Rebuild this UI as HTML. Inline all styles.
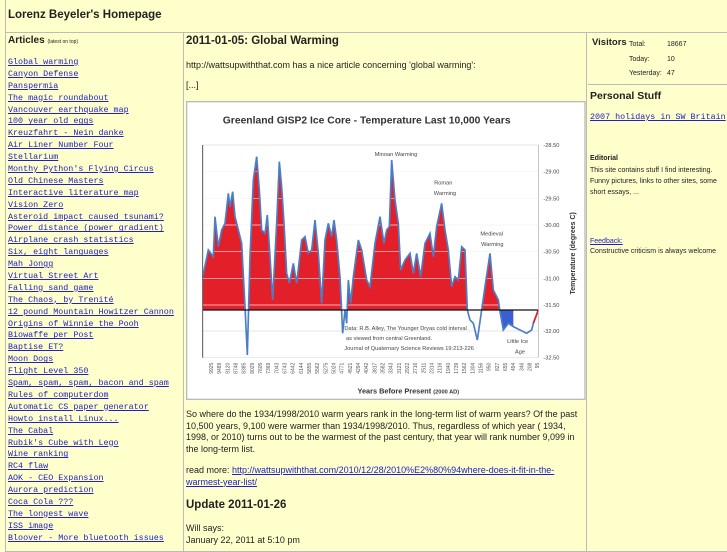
<!DOCTYPE html>
<html><head><meta charset="utf-8">
<style>
*{margin:0;padding:0;box-sizing:border-box}
body{width:727px;height:545px;overflow:hidden;background:#ffffcc;font-family:"Liberation Sans",sans-serif;color:#222;position:relative}
.a{position:absolute;white-space:nowrap}
.hdr{position:absolute;left:5px;top:0;width:740px;height:33px;border:1px solid #bbb;border-top:none}
.col{position:absolute;top:32px;height:520px;border:1px solid #bbb}
.links a{display:block;font-family:"Liberation Mono",monospace;font-size:8.4px;color:#2020cc;text-decoration:underline;height:11.9px;line-height:11.9px}
.p{font-size:9px;line-height:11.7px;color:#222}
a{color:#2020cc}
</style></head><body>
<div class="hdr"></div>
<div class="a" style="left:8px;top:9px;font-size:11.5px;font-weight:bold">Lorenz Beyeler's Homepage</div>
<div class="col" style="left:5px;width:179px"></div>
<div class="col" style="left:183px;width:404px"></div>
<div class="col" style="left:586px;width:160px"></div>
<div class="a" style="left:588px;top:84px;width:140px;border-top:1px solid #bbb"></div>

<div class="a" style="left:8px;top:35px;font-size:10px;font-weight:bold">Articles <span style="font-size:5px;font-weight:normal">(latest on top)</span></div>
<div class="a links" style="left:8px;top:57px">
<a>Global warming</a><a>Canyon Defense</a><a>Panspermia</a><a>The magic roundabout</a><a>Vancouver earthquake map</a><a>100 year old eggs</a><a>Kreuzfahrt - Nein danke</a><a>Air Liner Number Four</a><a>Stellarium</a><a>Monthy Python's Flying Circus</a><a>Old Chinese Masters</a><a>Interactive literature map</a><a>Vision Zero</a><a>Asteroid impact caused tsunami?</a><a>Power distance (power gradient)</a><a>Airplane crash statistics</a><a>Six, eight languages</a><a>Mah Jongg</a><a>Virtual Street Art</a><a>Falling sand game</a><a>The Chaos, by Trenité</a><a>12 pound Mountain Howitzer Cannon</a><a>Origins of Winnie the Pooh</a><a>Biowaffe per Post</a><a>Baptise ET?</a><a>Moon Dogs</a><a>Flight Level 350</a><a>Spam, spam, spam, bacon and spam</a><a>Rules of computerdom</a><a>Automatic CS paper generator</a><a>Howto install Linux...</a><a>The Cabal</a><a>Rubik's Cube with Lego</a><a>Wine ranking</a><a>RC4 flaw</a><a>AOK - CEO Expansion</a><a>Aurora prediction</a><a>Coca Cola ???</a><a>The longest wave</a><a>ISS image</a><a>Bloover - More bluetooth issues</a>
</div>

<div class="a" style="left:186px;top:35px;font-size:11.5px;font-weight:bold">2011-01-05: Global Warming</div>
<div class="a p" style="left:186px;top:60px">http://wattsupwiththat.com has a nice article concerning 'global warming':</div>
<div class="a p" style="left:186px;top:80px">[...]</div>

<svg class="a" style="left:180px;top:90px" width="410" height="310" viewBox="0 0 1230 930">
<rect x="20" y="35" width="1195" height="893" fill="#fff" stroke="#bbb" stroke-width="4"/>
<text x="560" y="100" text-anchor="middle" font-family="Liberation Sans,sans-serif" font-weight="bold" font-size="31" fill="#333">Greenland GISP2 Ice Core - Temperature  Last 10,000 Years</text>
<g stroke="#ddd" stroke-width="2"><line x1="68" x2="1075" y1="165" y2="165"/><line x1="68" x2="1075" y1="245" y2="245"/><line x1="68" x2="1075" y1="325" y2="325"/><line x1="68" x2="1075" y1="405" y2="405"/><line x1="68" x2="1075" y1="485" y2="485"/><line x1="68" x2="1075" y1="565" y2="565"/><line x1="68" x2="1075" y1="645" y2="645"/><line x1="68" x2="1075" y1="723" y2="723"/><line x1="68" x2="1075" y1="803" y2="803"/></g>
<defs><clipPath id="up"><rect x="60" y="100" width="1100" height="560"/></clipPath><clipPath id="dn"><rect x="940" y="660" width="60" height="200"/></clipPath></defs>
<path id="d" d="M68,560 L85,480 L100,500 L105,380 L115,470 L125,420 L135,400 L145,310 L150,350 L158,305 L165,380 L175,420 L185,460 L195,650 L202,795 L210,500 L220,270 L230,200 L238,300 L245,420 L255,430 L262,375 L270,500 L278,630 L290,400 L298,215 L305,290 L312,400 L320,550 L328,580 L340,520 L350,580 L365,450 L375,440 L385,490 L395,480 L405,390 L415,490 L425,640 L435,450 L445,400 L455,440 L462,390 L470,450 L480,560 L488,730 L495,660 L500,700 L505,570 L512,640 L520,560 L535,450 L545,480 L560,570 L570,590 L585,460 L600,380 L612,460 L620,420 L628,410 L635,210 L645,330 L655,400 L662,540 L675,510 L690,490 L700,550 L710,490 L722,560 L735,460 L750,430 L760,500 L770,410 L785,340 L795,420 L805,480 L815,590 L825,560 L835,570 L845,470 L855,480 L862,660 L870,690 L880,700 L892,750 L905,660 L915,590 L930,490 L940,600 L955,630 L960,665 L970,720 L985,700 L1000,710 L1020,720 L1040,730 L1055,720 L1060,700 L1075,660" fill="none"/>
<path clip-path="url(#up)" fill="#e3202a" d="M68,660 L68,560 L85,480 L100,500 L105,380 L115,470 L125,420 L135,400 L145,310 L150,350 L158,305 L165,380 L175,420 L185,460 L195,650 L202,795 L210,500 L220,270 L230,200 L238,300 L245,420 L255,430 L262,375 L270,500 L278,630 L290,400 L298,215 L305,290 L312,400 L320,550 L328,580 L340,520 L350,580 L365,450 L375,440 L385,490 L395,480 L405,390 L415,490 L425,640 L435,450 L445,400 L455,440 L462,390 L470,450 L480,560 L488,730 L495,660 L500,700 L505,570 L512,640 L520,560 L535,450 L545,480 L560,570 L570,590 L585,460 L600,380 L612,460 L620,420 L628,410 L635,210 L645,330 L655,400 L662,540 L675,510 L690,490 L700,550 L710,490 L722,560 L735,460 L750,430 L760,500 L770,410 L785,340 L795,420 L805,480 L815,590 L825,560 L835,570 L845,470 L855,480 L862,660 L870,690 L880,700 L892,750 L905,660 L915,590 L930,490 L940,600 L955,630 L960,665 L975,660 Z"/>
<path clip-path="url(#dn)" fill="#3a5fd0" d="M955,660 L960,665 L970,720 L985,700 L1000,710 L1020,720 L1040,730 L1055,720 L1060,700 L1075,660 Z"/>
<g stroke="#fff" stroke-width="2" clip-path="url(#up)" opacity="0.85"><line x1="68" x2="1075" y1="245" y2="245"/><line x1="68" x2="1075" y1="325" y2="325"/><line x1="68" x2="1075" y1="405" y2="405"/><line x1="68" x2="1075" y1="485" y2="485"/><line x1="68" x2="1075" y1="565" y2="565"/><line x1="68" x2="1075" y1="645" y2="645"/></g>
<use href="#d" stroke="#4a7fc8" stroke-width="5" fill="none"/>
<line x1="1060" y1="700" x2="1075" y2="660" stroke="#e3202a" stroke-width="5"/>
<line x1="68" x2="1075" y1="660" y2="660" stroke="#111" stroke-width="4"/>
<line x1="68" x2="68" y1="165" y2="803" stroke="#555" stroke-width="3"/>
<line x1="1075" x2="1075" y1="165" y2="803" stroke="#aaa" stroke-width="2"/>
<g font-family="Liberation Sans,sans-serif" font-size="17" fill="#444">
<text x="1090" y="171">-28.50</text><text x="1090" y="251">-29.00</text><text x="1090" y="331">-29.50</text><text x="1090" y="411">-30.00</text><text x="1090" y="491">-30.50</text><text x="1090" y="571">-31.00</text><text x="1090" y="651">-31.50</text><text x="1090" y="729">-32.00</text><text x="1090" y="809">-32.50</text>
<text x="648" y="198" text-anchor="middle">Minoan Warming</text>
<text x="790" y="283" text-anchor="middle">Roman</text><text x="795" y="315" text-anchor="middle">Warming</text>
<text x="935" y="436" text-anchor="middle">Medieval</text><text x="937" y="468" text-anchor="middle">Warming</text>
<text x="1013" y="759" text-anchor="middle">Little Ice</text><text x="1020" y="790" text-anchor="middle">Age</text>
<text x="493" y="720">Data: R.B. Alley,  The Younger Dryas cold interval</text>
<text x="498" y="750">as viewed from central Greenland.</text>
<text x="493" y="780">Journal of Quaternary  Science Reviews 19:213-226</text>
</g>
<text transform="translate(1185,490) rotate(-90)" text-anchor="middle" font-family="Liberation Sans,sans-serif" font-weight="bold" font-size="21" fill="#333">Temperature (degrees C)</text>
<text x="685" y="910" text-anchor="middle" font-family="Liberation Sans,sans-serif" font-weight="bold" font-size="22" fill="#333">Years Before Present <tspan font-size="17">(2000 AD)</tspan></text>
<g font-family="Liberation Sans,sans-serif" font-size="15" fill="#555" text-anchor="end">
<text transform="translate(99,818) rotate(-90)">9925</text><text transform="translate(123.5,818) rotate(-90)">9489</text><text transform="translate(148,818) rotate(-90)">9120</text><text transform="translate(172.5,818) rotate(-90)">8748</text><text transform="translate(197,818) rotate(-90)">8385</text><text transform="translate(221.5,818) rotate(-90)">8029</text><text transform="translate(246,818) rotate(-90)">7605</text><text transform="translate(270.5,818) rotate(-90)">7369</text><text transform="translate(295,818) rotate(-90)">7043</text><text transform="translate(319.5,818) rotate(-90)">6743</text><text transform="translate(344,818) rotate(-90)">6442</text><text transform="translate(368.5,818) rotate(-90)">6144</text><text transform="translate(393,818) rotate(-90)">5855</text><text transform="translate(417.5,818) rotate(-90)">5562</text><text transform="translate(442,818) rotate(-90)">5275</text><text transform="translate(466.5,818) rotate(-90)">5024</text><text transform="translate(491,818) rotate(-90)">4771</text><text transform="translate(515.5,818) rotate(-90)">4521</text><text transform="translate(540,818) rotate(-90)">4294</text><text transform="translate(564.5,818) rotate(-90)">4042</text><text transform="translate(589,818) rotate(-90)">3817</text><text transform="translate(613.5,818) rotate(-90)">3582</text><text transform="translate(638,818) rotate(-90)">3343</text><text transform="translate(662.5,818) rotate(-90)">3121</text><text transform="translate(687,818) rotate(-90)">2922</text><text transform="translate(711.5,818) rotate(-90)">2716</text><text transform="translate(736,818) rotate(-90)">2511</text><text transform="translate(760.5,818) rotate(-90)">2314</text><text transform="translate(785,818) rotate(-90)">2116</text><text transform="translate(809.5,818) rotate(-90)">1940</text><text transform="translate(834,818) rotate(-90)">1739</text><text transform="translate(858.5,818) rotate(-90)">1562</text><text transform="translate(883,818) rotate(-90)">1304</text><text transform="translate(907.5,818) rotate(-90)">1156</text><text transform="translate(932,818) rotate(-90)">950</text><text transform="translate(956.5,818) rotate(-90)">827</text><text transform="translate(981,818) rotate(-90)">655</text><text transform="translate(1005.5,818) rotate(-90)">494</text><text transform="translate(1030,818) rotate(-90)">346</text><text transform="translate(1054.5,818) rotate(-90)">208</text><text transform="translate(1077,818) rotate(-90)">95</text>
</g>
</svg>

<div class="a p" style="left:186px;top:409px">So where do the 1934/1998/2010 warm years rank in the long-term list of warm years? Of the past<br>10,500 years, 9,100 were warmer than 1934/1998/2010. Thus, regardless of which year ( 1934,<br>1998, or 2010) turns out to be the warmest of the past century, that year will rank number 9,099 in<br>the long-term list.</div>
<div class="a p" style="left:186px;top:465px">read more: <a style="text-decoration:underline">http://wattsupwiththat.com/2010/12/28/2010%E2%80%94where-does-it-fit-in-the-</a><br><a style="text-decoration:underline">warmest-year-list/</a></div>
<div class="a" style="left:186px;top:499px;font-size:11.5px;font-weight:bold">Update 2011-01-26</div>
<div class="a p" style="left:186px;top:523px">Will says:<br>January 22, 2011 at 5:10 pm</div>

<div class="a" style="left:592px;top:37px;font-size:9.5px;font-weight:bold">Visitors</div>
<div class="a" style="left:629px;top:38px;font-size:7px;line-height:14.5px">Total:<br>Today:<br>Yesterday:</div>
<div class="a" style="left:667px;top:38px;font-size:7px;line-height:14.5px">18667<br>10<br>47</div>
<div class="a" style="left:590px;top:90px;font-size:10.5px;font-weight:bold">Personal Stuff</div>
<div class="a" style="left:590px;top:112px;font-family:'Liberation Mono',monospace;font-size:8.4px;color:#2020cc;text-decoration:underline">2007 holidays in SW Britain</div>
<div class="a" style="left:590px;top:155px;font-size:7px;font-weight:bold">Editorial</div>
<div class="a" style="left:590px;top:165px;font-size:7px;line-height:11px">This site contains stuff I find interesting.<br>Funny pictures, links to other sites, some<br>short essays, ...</div>
<div class="a" style="left:590px;top:238px;font-size:7px;color:#2020cc;text-decoration:underline">Feedback:</div>
<div class="a" style="left:590px;top:248px;font-size:7px">Constructive criticism is always welcome</div>
</body></html>
